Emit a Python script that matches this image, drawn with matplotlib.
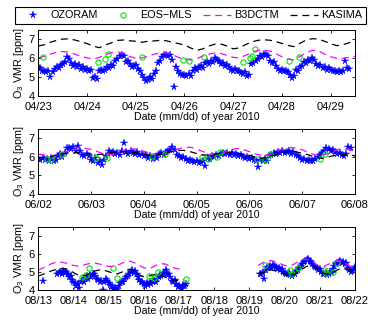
import numpy as np
import matplotlib
matplotlib.use("Agg")
import matplotlib.pyplot as plt

plt.rcParams['font.family'] = ['Liberation Sans', 'DejaVu Sans']
plt.rcParams['mathtext.default'] = 'regular'
plt.rcParams['lines.scale_dashes'] = False

# ---------------- April 2010 (days since 04/23 00 UT) ----------------
apr_ticklabels = ['04/23', '04/24', '04/25', '04/26', '04/27', '04/28', '04/29']
# OZORAM hourly retrievals, first value at hour 0
apr_ozoram = [
    5.55, 5.5, 5.3, 5.35, 5.25, 5.3, 5.0, 5.25, 5.45, 5.55, 5.5, 5.65,
    5.7, 5.8, 6.05, 5.95, 5.75, 5.6, 5.7, 5.55, 5.65, 5.45, 5.55, 5.4,
    5.45, 5.35, 5.4, 4.95, 5.0, 4.92, 5.35, 5.4, 5.3, 5.4, 5.55, 5.5,
    5.65, 5.6, 5.85, 5.95, 6.1, 6.2, 6.1, 5.8, 5.85, 5.7, 5.55, 5.6,
    5.65, 5.45, 5.3, 5.1, 4.95, 4.8, 4.85, 5.0, 4.9, 5.15, 5.3, 5.75,
    5.85, 6.05, 6.15, 6.2, 6.1, 6.15, 5.9, 4.47, 5.55, 5.3, 5.15, 5.1,
    5.1, 5.05, 5.15, 5.05, 5.35, 5.5, 5.4, 5.55, 5.6, 5.5, 5.75, 5.8,
    5.7, 5.85, 5.8, 6.0, 5.9, 5.85, 5.7, 5.75, 5.6, 5.65, 5.55, 5.4,
    5.35, 5.45, 5.3, 5.35, 5.2, 5.15, 5.25, 5.05, 5.1, 5.7, 5.75, 5.85,
    5.95, 6.1, 6.05, 6.25, 6.2, 6.1, 5.85, 5.75, 5.8, 5.6, 5.45, 5.35,
    5.4, 5.3, 5.35, 5.25, 5.1, 4.95, 5.05, 5.4, 5.3, 5.55, 5.6, 5.8,
    5.75, 5.9, 5.85, 6.0, 5.9, 5.7, 5.6, 5.65, 5.5, 5.55, 5.4, 5.5,
    5.4, 5.3, 5.35, 5.25, 5.3, 5.25, 5.3, 5.85, 5.5, 5.45,
]
apr_mls_day = [0.10, 1.23, 1.37, 1.44, 2.12, 2.97, 3.10, 3.40,
               4.21, 4.34, 4.38, 4.45, 5.15, 5.36]
apr_mls_vmr = [6.05, 5.82, 5.95, 6.23, 6.09, 5.91, 5.88, 6.05,
               5.82, 6.0, 6.14, 6.49, 5.88, 6.05]
# model output every 3 h from day 0
apr_b3dctm = [
    6.02, 6.1, 6.22, 6.32, 6.36, 6.32, 6.22, 6.1,
    6.02, 5.96, 6.05, 6.18, 6.3, 6.34, 6.25, 6.1,
    6.0, 6.02, 6.1, 6.22, 6.28, 6.3, 6.2, 6.05,
    5.96, 5.92, 5.98, 6.12, 6.22, 6.28, 6.25, 6.15,
    6.05, 6.02, 6.15, 6.3, 6.42, 6.44, 6.38, 6.25,
    6.08, 5.95, 5.92, 6.1, 6.3, 6.42, 6.4, 6.22,
    6.08, 6.0, 6.0, 6.05, 6.1,
]
apr_kasima = [
    6.65, 6.72, 6.85, 6.95, 7.02, 7.03, 6.97, 6.88,
    6.78, 6.65, 6.56, 6.7, 6.82, 6.95, 6.97, 6.93,
    6.9, 6.85, 6.9, 6.92, 6.95, 6.93, 6.85, 6.78,
    6.7, 6.55, 6.42, 6.5, 6.65, 6.75, 6.75, 6.65,
    6.5, 6.55, 6.72, 6.86, 6.95, 6.98, 6.96, 6.88,
    6.79, 6.68, 6.62, 6.8, 6.97, 7.04, 7.02, 6.9,
    6.78, 6.67, 6.72, 6.82, 6.96,
]

# ---------------- June 2010 (days since 06/02 00 UT) ----------------
jun_ticklabels = ['06/02', '06/03', '06/04', '06/05', '06/06', '06/07', '06/08']
jun_ozoram = [
    5.9, 5.85, 5.95, 5.85, 5.9, 5.8, 5.95, 5.75, 5.85, 6.05, 6.15, 6.0,
    6.2, 6.45, 6.5, 6.4, 6.55, 6.3, 6.6, 6.3, 6.1, 6.05, 6.15, 6.05,
    5.85, 5.75, 5.95, 5.65, 5.8, 5.55, 5.85, 6.05, 6.3, 6.2, 6.25, 6.15,
    6.2, 6.1, 6.3, 6.72, 6.25, 6.15, 6.3, 6.2, 6.15, 6.25, 6.1, 6.15,
    6.05, 6.1, 5.95, 6.05, 5.9, 6.0, 5.95, 6.15, 6.2, 6.1, 6.25, 6.3,
    6.35, 6.55, 6.35, 6.1, 6.05, 5.95, 6.0, 5.9, 5.8, 5.85, 5.75, 5.7,
    5.75, 5.65, 5.7, 5.8, 5.5, 5.95, 5.9, 6.05, 6.0, 6.1, 6.05, 6.15,
    6.2, 6.15, 6.2, 6.1, 6.2, 6.1, 6.15, 6.05, 6.1, 6.0, 5.95, 6.0,
    5.9, 5.95, 5.85, 5.8, 5.47, 5.85, 5.8, 5.9, 5.8, 6.05, 6.1, 6.2,
    6.15, 6.25, 6.2, 6.3, 6.2, 6.25, 6.3, 6.15, 6.25, 6.1, 6.05, 5.95,
    5.85, 5.9, 5.8, 5.85, 5.75, 5.8, 5.9, 6.0, 6.1, 6.2, 6.3, 6.45,
    6.4, 6.3, 6.35, 6.25, 6.15, 6.2, 6.1, 6.05, 6.15, 6.55, 6.5,
]
jun_mls_day = [0.16, 0.25, 0.44, 1.10, 1.30, 2.15, 2.40, 3.10,
               3.22, 3.38, 3.44, 4.14, 4.30, 4.39, 5.34, 5.43]
jun_mls_vmr = [5.88, 5.86, 6.14, 5.96, 5.96, 6.05, 6.18, 6.0,
               5.91, 6.0, 6.27, 5.88, 5.82, 6.14, 5.91, 6.18]
jun_b3dctm = [
    6.15, 6.1, 6.06, 6.12, 6.25, 6.35, 6.42, 6.46,
    6.4, 6.28, 6.15, 6.12, 6.22, 6.35, 6.43, 6.42,
    6.3, 6.18, 6.1, 6.12, 6.25, 6.4, 6.5, 6.52,
    6.42, 6.28, 6.15, 6.12, 6.2, 6.35, 6.45, 6.4,
    6.28, 6.15, 6.08, 6.12, 6.28, 6.42, 6.5, 6.48,
    6.38, 6.22, 6.1, 6.08, 6.18, 6.35, 6.45, 6.4,
    6.25,
]
jun_kasima = [
    5.95, 5.97, 6.02, 6.1, 6.18, 6.22, 6.22, 6.2,
    6.15, 6.12, 6.15, 6.22, 6.27, 6.28, 6.25, 6.2,
    6.12, 6.08, 6.1, 6.18, 6.28, 6.34, 6.35, 6.28,
    6.18, 6.1, 6.1, 6.15, 6.2, 6.22, 6.2, 6.15,
    6.08, 5.98, 5.92, 6.0, 6.12, 6.25, 6.28, 6.27,
    6.2, 6.1, 5.98, 5.92, 6.0, 6.08, 6.1, 6.12,
    6.05,
]

# ---------------- August 2010 (days since 08/13 00 UT) ----------------
aug_ticklabels = ['08/13', '08/14', '08/15', '08/16', '08/17',
                  '08/18', '08/19', '08/20', '08/21', '08/22']
aug_ozoram_start_hours = [3, 13, 151]
aug_ozoram_a = [4.5]
aug_ozoram_b = [
    4.85, 4.95, 5.0, 4.9, 5.05, 4.95, 5.0, 4.85, 4.7, 4.75, 4.55,
    4.4, 4.35, 4.2, 4.3, 4.1, 4.4, 4.5, 4.45, 4.65, 4.75, 4.6, 4.8,
    4.7, 4.85, 4.9, 4.75, 4.6, 4.55, 4.4, 4.5, 3.98, 4.45, 4.6, 4.5,
    4.35, 4.25, 4.2, 4.05, 4.1, 4.0, 4.05, 4.2, 4.35, 4.45, 4.4, 4.6,
    4.7, 4.75, 4.85, 5.0, 5.1, 4.95, 5.05, 4.85, 4.7, 4.55, 4.45, 4.4,
    4.3, 4.2, 4.35, 4.25, 4.4, 4.3, 4.45, 4.5, 4.4, 4.6, 4.7, 4.8,
    4.75, 4.9, 4.95, 5.1, 4.85, 4.9, 4.7, 4.5, 4.4, 4.55, 4.3, 4.15,
    4.2, 4.1, 4.05, 4.25, 4.2, 4.3,
]
aug_ozoram_c = [
    4.85, 4.9, 4.95, 4.57, 5.1,
    5.2, 5.25, 5.3, 5.2, 5.35, 5.3, 5.25, 5.15, 5.2, 5.1, 5.15, 5.0,
    4.95, 4.9, 4.85, 4.95, 4.8, 4.75, 4.85, 4.9, 5.05, 5.1, 5.2, 5.3,
    5.45, 5.55, 5.6, 5.65, 5.7, 5.6, 5.55, 5.45, 5.3, 5.25, 5.2, 5.1,
    5.15, 5.0, 4.9, 4.85, 4.95, 4.8, 4.9, 5.0, 4.95, 5.15, 5.3, 5.45,
    5.5, 5.55, 5.6, 5.5, 5.55, 5.45, 5.5, 5.2, 5.1, 5.0, 5.05, 5.15,
    5.25,
]
aug_mls_day = [1.23, 1.35, 1.45, 2.11, 2.24, 3.15, 3.30, 3.41, 4.21,
               6.44, 7.15, 7.20, 7.39, 8.14, 8.19, 8.38, 8.48]
aug_mls_vmr = [4.7, 4.83, 5.22, 5.22, 4.66, 4.75, 4.66, 5.0, 4.57,
               5.36, 5.1, 4.89, 5.23, 5.1, 4.92, 5.0, 5.48]
aug_model_start_days = [0.0, 6.25]
aug_b3dctm_a = [
    5.1, 5.2, 5.32, 5.45, 5.53, 5.55, 5.5, 5.42,
    5.35, 5.32, 5.35, 5.42, 5.48, 5.48, 5.42, 5.35,
    5.3, 5.3, 5.35, 5.48, 5.57, 5.58, 5.48, 5.35,
    5.22, 5.18, 5.25, 5.38, 5.45, 5.42, 5.3, 5.2,
    5.15, 5.12,
]
aug_b3dctm_b = [
    5.35, 5.5, 5.6, 5.62, 5.55, 5.45, 5.35, 5.32, 5.4, 5.55, 5.68, 5.7,
    5.62, 5.45, 5.3, 5.3, 5.42, 5.55, 5.62, 5.6, 5.45, 5.3, 5.25,
]
aug_kasima_a = [
    4.75, 4.85, 4.95, 5.05, 5.12, 5.17, 5.17, 5.1,
    4.95, 4.82, 4.75, 4.82, 4.95, 5.05, 5.1, 5.08,
    5.0, 4.92, 4.88, 4.98, 5.1, 5.12, 5.02, 4.82,
    4.72, 4.75, 4.82, 4.85, 4.78, 4.68, 4.58, 4.52,
    4.5, 4.55,
]
aug_kasima_b = [
    4.9, 4.95, 5.05, 5.1, 5.05, 4.95, 4.85, 4.78, 4.8, 4.95, 5.15, 5.3,
    5.35, 5.25, 5.05, 4.9, 4.85, 4.95, 5.1, 5.2, 5.15, 5.05, 5.0,
]

BLUE = '#0000FF'
GREEN = '#00E600'
MAGENTA = '#FF00FF'
DASH = (5.0, 3.5)
MODEL_STEP = 0.125  # 3-hourly model output, in days


def draw_panel(ax, oz_segments, mls_day, mls_vmr, b3d_segments, kas_segments,
               ticklabels, xmax):
    handles = []
    for i, (start_h, vals) in enumerate(oz_segments):
        t = (start_h + np.arange(len(vals))) / 24.0
        h, = ax.plot(t, vals, ls='none', marker='*', ms=5.6, color=BLUE,
                     mec=BLUE, mew=0.3, label='OZORAM' if i == 0 else None)
        if i == 0:
            handles.append(h)
    h, = ax.plot(mls_day, mls_vmr, ls='none', marker='o', ms=3.8,
                 mfc='none', mec=GREEN, mew=0.8, label='EOS\u2212MLS')
    handles.append(h)
    for i, (start_d, vals) in enumerate(b3d_segments):
        t = start_d + np.arange(len(vals)) * MODEL_STEP
        h, = ax.plot(t, vals, color=MAGENTA, lw=0.9, dashes=DASH,
                     label='B3DCTM' if i == 0 else None)
        if i == 0:
            handles.append(h)
    for i, (start_d, vals) in enumerate(kas_segments):
        t = start_d + np.arange(len(vals)) * MODEL_STEP
        h, = ax.plot(t, vals, color='black', lw=0.9, dashes=DASH,
                     label='KASIMA' if i == 0 else None)
        if i == 0:
            handles.append(h)

    ax.set_xlim(0, xmax)
    ax.set_ylim(4, 7.5)
    ax.set_xticks(np.arange(len(ticklabels)))
    ax.set_xticklabels(ticklabels)
    ax.set_yticks([4, 5, 6, 7])
    ax.tick_params(direction='in', top=True, right=True, length=2.5,
                   width=0.6, labelsize=8.0)
    ax.tick_params(axis='x', pad=4.5)
    ax.tick_params(axis='y', pad=2.5)
    for s in ax.spines.values():
        s.set_linewidth(0.7)
    ax.set_xlabel('Date (mm/dd) of year 2010', fontsize=7.6, labelpad=0)
    ax.set_ylabel('O$_3$ VMR [ppm]', fontsize=7.8, labelpad=2)
    return handles


fig = plt.figure(figsize=(3.7, 3.2), dpi=100)
W, H = 370.0, 320.0
left, width = 38.3 / W, 316.7 / W
ax1 = fig.add_axes([left, 1 - 96 / H, width, 66 / H])
ax2 = fig.add_axes([left, 1 - 194 / H, width, 65 / H])
ax3 = fig.add_axes([left, 1 - 289.6 / H, width, 62.6 / H])

handles = draw_panel(ax1, [(0, apr_ozoram)], apr_mls_day, apr_mls_vmr,
                     [(0.0, apr_b3dctm)], [(0.0, apr_kasima)],
                     apr_ticklabels, 6.5)
draw_panel(ax2, [(0, jun_ozoram)], jun_mls_day, jun_mls_vmr,
           [(0.0, jun_b3dctm)], [(0.0, jun_kasima)], jun_ticklabels, 6)
draw_panel(ax3,
           list(zip(aug_ozoram_start_hours,
                    [aug_ozoram_a, aug_ozoram_b, aug_ozoram_c])),
           aug_mls_day, aug_mls_vmr,
           list(zip(aug_model_start_days, [aug_b3dctm_a, aug_b3dctm_b])),
           list(zip(aug_model_start_days, [aug_kasima_a, aug_kasima_b])),
           aug_ticklabels, 9)

leg = fig.legend(handles=handles, loc='center',
                 bbox_to_anchor=(15 / W, 1 - 25 / H, 351 / W, 19 / H),
                 mode='expand', ncol=4, fontsize=7.8, numpoints=1,
                 frameon=True, fancybox=False, edgecolor='black',
                 framealpha=1, handlelength=2.6, handletextpad=0.3,
                 borderaxespad=0, borderpad=0.35, columnspacing=0.8)
leg.get_frame().set_linewidth(0.8)

fig.savefig('out.png', dpi=100)
